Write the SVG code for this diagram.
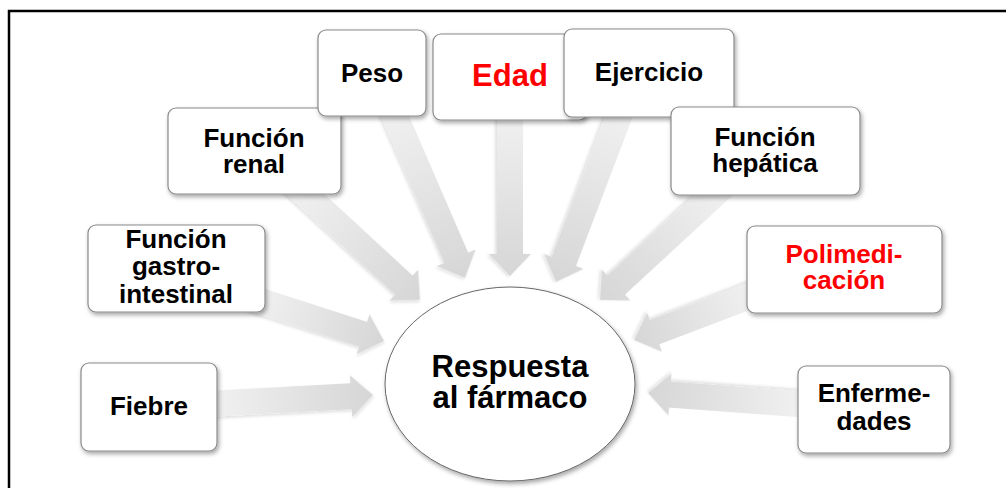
<svg xmlns="http://www.w3.org/2000/svg" width="1006" height="488" viewBox="0 0 1006 488">
<defs>
<linearGradient id="ag" x1="0" y1="0" x2="1" y2="0">
<stop offset="0" stop-color="#f2f2f2"/>
<stop offset="1" stop-color="#d6d6d6"/>
</linearGradient>
<filter id="sh" x="-20%" y="-20%" width="140%" height="150%">
<feDropShadow dx="1.5" dy="2.5" stdDeviation="2" flood-color="#000" flood-opacity="0.35"/>
</filter>
<filter id="ash" x="-20%" y="-20%" width="140%" height="140%">
<feDropShadow dx="1" dy="2" stdDeviation="1.5" flood-color="#000" flood-opacity="0.12"/>
</filter>
</defs>
<style>
.box{fill:#fff;stroke:#8a8a8a;stroke-width:1.2;filter:url(#sh)}
.t{font-family:"Liberation Sans",Arial,sans-serif;font-weight:bold;font-size:26px;fill:#000;text-anchor:middle}
.red{fill:#ff0000}
.arr{fill:url(#ag);filter:url(#ash)}
</style>
<rect x="9" y="11" width="1010" height="490" fill="#fff" stroke="#000" stroke-width="2.5"/>
<g id="connectors">
<path class="arr" transform="translate(465,278) rotate(66.6)" d="M0,0 L-22,-21 L-22,-13 L-194,-13 L-194,13 L-22,13 L-22,21 Z"/>
<path class="arr" transform="translate(510,276) rotate(90)" d="M0,0 L-22,-21 L-22,-13 L-171,-13 L-171,13 L-22,13 L-22,21 Z"/>
<path class="arr" transform="translate(556,282) rotate(110.8)" d="M0,0 L-22,-21 L-22,-13 L-195,-13 L-195,13 L-22,13 L-22,21 Z"/>
<path class="arr" transform="translate(420,300) rotate(42.7)" d="M0,0 L-22,-21 L-22,-13 L-177,-13 L-177,13 L-22,13 L-22,21 Z"/>
<path class="arr" transform="translate(600,300) rotate(137.3)" d="M0,0 L-22,-21 L-22,-13 L-177,-13 L-177,13 L-22,13 L-22,21 Z"/>
<path class="arr" transform="translate(384,341) rotate(17.9)" d="M0,0 L-22,-21 L-22,-13 L-140,-13 L-140,13 L-22,13 L-22,21 Z"/>
<path class="arr" transform="translate(373,395) rotate(-3.1)" d="M0,0 L-22,-21 L-22,-13 L-168,-13 L-168,13 L-22,13 L-22,21 Z"/>
<path class="arr" transform="translate(634,340) rotate(159.2)" d="M0,0 L-22,-21 L-22,-13 L-135,-13 L-135,13 L-22,13 L-22,21 Z"/>
<path class="arr" transform="translate(648,393) rotate(184.2)" d="M0,0 L-22,-21 L-22,-13 L-162,-13 L-162,13 L-22,13 L-22,21 Z"/>
</g>
<g id="center">
<ellipse cx="510" cy="384" rx="125" ry="97" fill="#fff" stroke="#666" stroke-width="1" filter="url(#sh)"/>
<text class="t" x="510" y="377" style="font-size:31px">Respuesta</text>
<text class="t" x="510" y="408" style="font-size:31px">al fármaco</text>
</g>
<g id="renal">
<rect class="box" x="168" y="108" width="173" height="86" rx="8"/>
<text class="t" x="254" y="147">Función</text>
<text class="t" x="254" y="173">renal</text>
</g>
<g id="peso">
<rect class="box" x="318" y="30" width="108" height="86" rx="8"/>
<text class="t" x="372" y="82">Peso</text>
</g>
<g id="edad">
<rect class="box" x="433" y="34" width="154" height="86" rx="8"/>
<text class="t red" x="510" y="86" style="font-size:31px">Edad</text>
</g>
<g id="ejercicio">
<rect class="box" x="564" y="29" width="170" height="88" rx="8"/>
<text class="t" x="649" y="81">Ejercicio</text>
</g>
<g id="hepatica">
<rect class="box" x="671" y="107" width="189" height="88" rx="8"/>
<text class="t" x="765" y="146">Función</text>
<text class="t" x="765" y="172">hepática</text>
</g>
<g id="gastro">
<rect class="box" x="88" y="225" width="177" height="87" rx="8"/>
<text class="t" x="176" y="248">Función</text>
<text class="t" x="176" y="275">gastro-</text>
<text class="t" x="176" y="303">intestinal</text>
</g>
<g id="polimedicacion">
<rect class="box" x="747" y="226" width="195" height="87" rx="8"/>
<text class="t red" x="844" y="263">Polimedi-</text>
<text class="t red" x="844" y="289">cación</text>
</g>
<g id="fiebre">
<rect class="box" x="81" y="363" width="136" height="88" rx="8"/>
<text class="t" x="149" y="415">Fiebre</text>
</g>
<g id="enfermedades">
<rect class="box" x="798" y="366" width="152" height="87" rx="8"/>
<text class="t" x="874" y="402">Enferme-</text>
<text class="t" x="874" y="430">dades</text>
</g>
</svg>
